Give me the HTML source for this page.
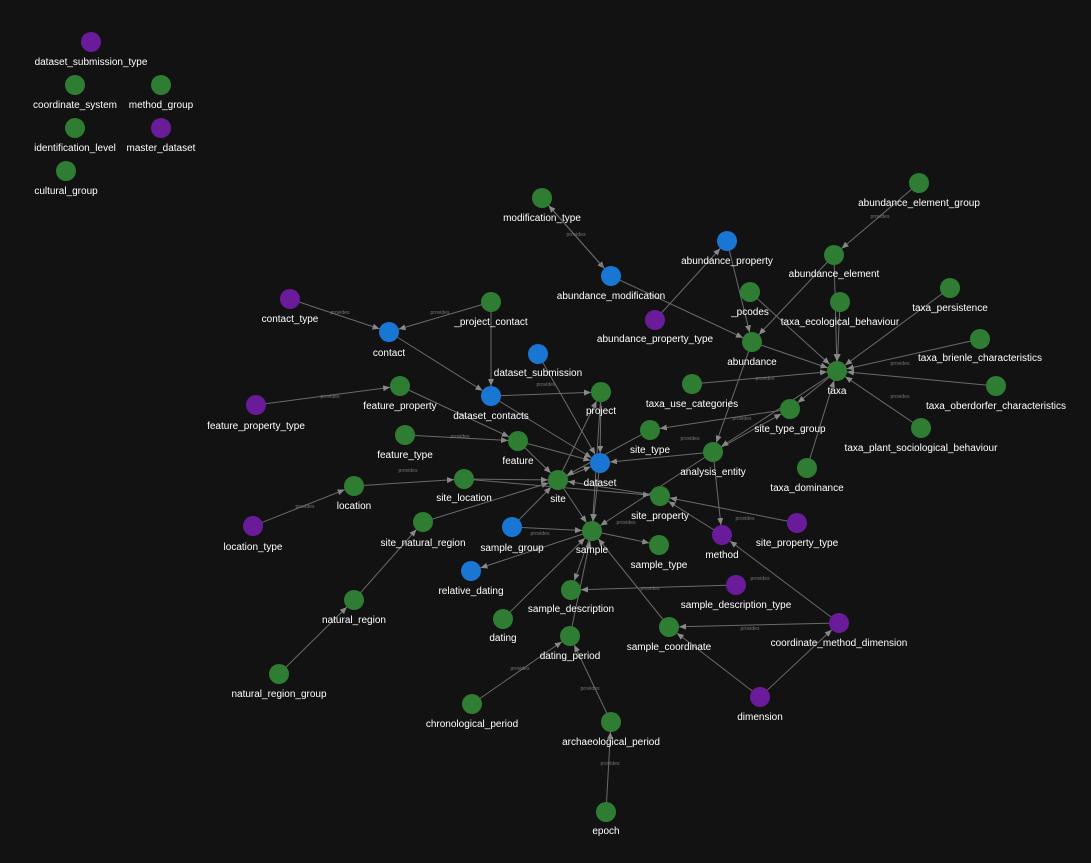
<!DOCTYPE html>
<html><head><meta charset="utf-8"><style>
html,body{margin:0;padding:0;background:#121212;width:1091px;height:863px;overflow:hidden}
svg{display:block}
.e{stroke:#6a6a6a;stroke-width:1;fill:none}
.l{font-family:"Liberation Sans",sans-serif;font-size:10px;fill:#fff;text-anchor:middle}
.p{font-family:"Liberation Sans",sans-serif;font-size:5px;fill:#777;text-anchor:middle}
.g{fill:#2e7d32}.b{fill:#1976d2}.u{fill:#6a1b9a}
</style></head><body>
<svg width="1091" height="863" viewBox="0 0 1091 863" xmlns="http://www.w3.org/2000/svg">
<defs><marker id="a" markerUnits="userSpaceOnUse" markerWidth="8" markerHeight="8" refX="17" refY="3" orient="auto"><path d="M0,0 L7,3 L0,6z" fill="#888"/></marker></defs>
<g class="e" marker-end="url(#a)">
<line x1="542" y1="198" x2="611" y2="276"/>
<line x1="611" y1="276" x2="542" y2="198"/>
<line x1="919" y1="183" x2="834" y2="255"/>
<line x1="834" y1="255" x2="752" y2="342"/>
<line x1="727" y1="241" x2="752" y2="342"/>
<line x1="655" y1="320" x2="727" y2="241"/>
<line x1="611" y1="276" x2="752" y2="342"/>
<line x1="752" y1="342" x2="837" y2="371"/>
<line x1="752" y1="342" x2="713" y2="452"/>
<line x1="750" y1="292" x2="837" y2="371"/>
<line x1="950" y1="288" x2="837" y2="371"/>
<line x1="840" y1="302" x2="837" y2="371"/>
<line x1="980" y1="339" x2="837" y2="371"/>
<line x1="996" y1="386" x2="837" y2="371"/>
<line x1="921" y1="428" x2="837" y2="371"/>
<line x1="807" y1="468" x2="837" y2="371"/>
<line x1="692" y1="384" x2="837" y2="371"/>
<line x1="837" y1="371" x2="790" y2="409"/>
<line x1="834" y1="255" x2="837" y2="371"/>
<line x1="290" y1="299" x2="389" y2="332"/>
<line x1="491" y1="302" x2="389" y2="332"/>
<line x1="389" y1="332" x2="491" y2="396"/>
<line x1="491" y1="302" x2="491" y2="396"/>
<line x1="491" y1="396" x2="601" y2="392"/>
<line x1="491" y1="396" x2="600" y2="463"/>
<line x1="538" y1="354" x2="600" y2="463"/>
<line x1="256" y1="405" x2="400" y2="386"/>
<line x1="400" y1="386" x2="518" y2="441"/>
<line x1="405" y1="435" x2="518" y2="441"/>
<line x1="518" y1="441" x2="558" y2="480"/>
<line x1="518" y1="441" x2="600" y2="463"/>
<line x1="253" y1="526" x2="354" y2="486"/>
<line x1="354" y1="486" x2="464" y2="479"/>
<line x1="464" y1="479" x2="558" y2="480"/>
<line x1="279" y1="674" x2="354" y2="600"/>
<line x1="354" y1="600" x2="423" y2="522"/>
<line x1="423" y1="522" x2="558" y2="480"/>
<line x1="558" y1="480" x2="592" y2="531"/>
<line x1="558" y1="480" x2="600" y2="463"/>
<line x1="558" y1="480" x2="601" y2="392"/>
<line x1="650" y1="430" x2="558" y2="480"/>
<line x1="790" y1="409" x2="650" y2="430"/>
<line x1="660" y1="496" x2="558" y2="480"/>
<line x1="797" y1="523" x2="660" y2="496"/>
<line x1="722" y1="535" x2="660" y2="496"/>
<line x1="512" y1="527" x2="592" y2="531"/>
<line x1="592" y1="531" x2="471" y2="571"/>
<line x1="592" y1="531" x2="659" y2="545"/>
<line x1="592" y1="531" x2="571" y2="590"/>
<line x1="736" y1="585" x2="571" y2="590"/>
<line x1="669" y1="627" x2="592" y2="531"/>
<line x1="839" y1="623" x2="669" y2="627"/>
<line x1="839" y1="623" x2="722" y2="535"/>
<line x1="760" y1="697" x2="839" y2="623"/>
<line x1="760" y1="697" x2="669" y2="627"/>
<line x1="570" y1="636" x2="592" y2="531"/>
<line x1="503" y1="619" x2="592" y2="531"/>
<line x1="472" y1="704" x2="570" y2="636"/>
<line x1="611" y1="722" x2="570" y2="636"/>
<line x1="606" y1="812" x2="611" y2="722"/>
<line x1="713" y1="452" x2="600" y2="463"/>
<line x1="713" y1="452" x2="592" y2="531"/>
<line x1="713" y1="452" x2="722" y2="535"/>
<line x1="601" y1="392" x2="600" y2="463"/>
<line x1="601" y1="392" x2="592" y2="531"/>
<line x1="512" y1="527" x2="558" y2="480"/>
<line x1="600" y1="463" x2="592" y2="531"/>
<line x1="713" y1="452" x2="790" y2="409"/>
<line x1="837" y1="371" x2="713" y2="452"/>
<line x1="464" y1="479" x2="660" y2="496"/>
</g>
<g class="p">
<text x="576" y="236">provides</text><text x="880" y="218">provides</text><text x="440" y="314">provides</text><text x="340" y="314">provides</text><text x="330" y="398">provides</text><text x="460" y="438">provides</text><text x="408" y="472">provides</text><text x="305" y="508">provides</text><text x="546" y="386">provides</text><text x="626" y="524">provides</text><text x="540" y="535">provides</text><text x="650" y="590">provides</text><text x="750" y="630">provides</text><text x="760" y="580">provides</text><text x="765" y="380">provides</text><text x="900" y="365">provides</text><text x="900" y="398">provides</text><text x="742" y="420">provides</text><text x="690" y="440">provides</text><text x="745" y="520">provides</text><text x="590" y="690">provides</text><text x="520" y="670">provides</text><text x="610" y="765">provides</text>
</g>
<g>
<circle cx="91" cy="42" r="10" class="u"/><circle cx="75" cy="85" r="10" class="g"/><circle cx="161" cy="85" r="10" class="g"/><circle cx="75" cy="128" r="10" class="g"/><circle cx="161" cy="128" r="10" class="u"/><circle cx="66" cy="171" r="10" class="g"/>
<circle cx="542" cy="198" r="10" class="g"/><circle cx="919" cy="183" r="10" class="g"/><circle cx="727" cy="241" r="10" class="b"/><circle cx="834" cy="255" r="10" class="g"/><circle cx="611" cy="276" r="10" class="b"/><circle cx="750" cy="292" r="10" class="g"/><circle cx="950" cy="288" r="10" class="g"/><circle cx="290" cy="299" r="10" class="u"/><circle cx="491" cy="302" r="10" class="g"/><circle cx="840" cy="302" r="10" class="g"/><circle cx="655" cy="320" r="10" class="u"/><circle cx="389" cy="332" r="10" class="b"/><circle cx="752" cy="342" r="10" class="g"/><circle cx="980" cy="339" r="10" class="g"/><circle cx="538" cy="354" r="10" class="b"/><circle cx="837" cy="371" r="10" class="g"/><circle cx="400" cy="386" r="10" class="g"/><circle cx="996" cy="386" r="10" class="g"/><circle cx="491" cy="396" r="10" class="b"/><circle cx="692" cy="384" r="10" class="g"/><circle cx="601" cy="392" r="10" class="g"/><circle cx="256" cy="405" r="10" class="u"/><circle cx="790" cy="409" r="10" class="g"/><circle cx="405" cy="435" r="10" class="g"/><circle cx="518" cy="441" r="10" class="g"/><circle cx="650" cy="430" r="10" class="g"/><circle cx="921" cy="428" r="10" class="g"/><circle cx="713" cy="452" r="10" class="g"/><circle cx="600" cy="463" r="10" class="b"/><circle cx="807" cy="468" r="10" class="g"/><circle cx="464" cy="479" r="10" class="g"/><circle cx="354" cy="486" r="10" class="g"/><circle cx="558" cy="480" r="10" class="g"/><circle cx="660" cy="496" r="10" class="g"/><circle cx="797" cy="523" r="10" class="u"/><circle cx="253" cy="526" r="10" class="u"/><circle cx="423" cy="522" r="10" class="g"/><circle cx="512" cy="527" r="10" class="b"/><circle cx="592" cy="531" r="10" class="g"/><circle cx="722" cy="535" r="10" class="u"/><circle cx="659" cy="545" r="10" class="g"/><circle cx="471" cy="571" r="10" class="b"/><circle cx="571" cy="590" r="10" class="g"/><circle cx="736" cy="585" r="10" class="u"/><circle cx="354" cy="600" r="10" class="g"/><circle cx="503" cy="619" r="10" class="g"/><circle cx="839" cy="623" r="10" class="u"/><circle cx="669" cy="627" r="10" class="g"/><circle cx="570" cy="636" r="10" class="g"/><circle cx="279" cy="674" r="10" class="g"/><circle cx="760" cy="697" r="10" class="u"/><circle cx="472" cy="704" r="10" class="g"/><circle cx="611" cy="722" r="10" class="g"/><circle cx="606" cy="812" r="10" class="g"/>
</g>
<g class="l">
<text x="91" y="65">dataset_submission_type</text><text x="75" y="108">coordinate_system</text><text x="161" y="108">method_group</text><text x="75" y="151">identification_level</text><text x="161" y="151">master_dataset</text><text x="66" y="194">cultural_group</text>
<text x="542" y="221">modification_type</text><text x="919" y="206">abundance_element_group</text><text x="727" y="264">abundance_property</text><text x="834" y="277">abundance_element</text><text x="611" y="299">abundance_modification</text><text x="750" y="315">_pcodes</text><text x="950" y="311">taxa_persistence</text><text x="290" y="322">contact_type</text><text x="491" y="325">_project_contact</text><text x="840" y="325">taxa_ecological_behaviour</text><text x="655" y="342">abundance_property_type</text><text x="389" y="356">contact</text><text x="752" y="365">abundance</text><text x="980" y="361">taxa_brienle_characteristics</text><text x="538" y="376">dataset_submission</text><text x="837" y="394">taxa</text><text x="400" y="409">feature_property</text><text x="996" y="409">taxa_oberdorfer_characteristics</text><text x="491" y="419">dataset_contacts</text><text x="692" y="407">taxa_use_categories</text><text x="601" y="414">project</text><text x="256" y="429">feature_property_type</text><text x="790" y="432">site_type_group</text><text x="405" y="458">feature_type</text><text x="518" y="464">feature</text><text x="650" y="453">site_type</text><text x="921" y="451">taxa_plant_sociological_behaviour</text><text x="713" y="475">analysis_entity</text><text x="600" y="486">dataset</text><text x="807" y="491">taxa_dominance</text><text x="464" y="501">site_location</text><text x="354" y="509">location</text><text x="558" y="502">site</text><text x="660" y="519">site_property</text><text x="797" y="546">site_property_type</text><text x="253" y="550">location_type</text><text x="423" y="546">site_natural_region</text><text x="512" y="551">sample_group</text><text x="592" y="553">sample</text><text x="722" y="558">method</text><text x="659" y="568">sample_type</text><text x="471" y="594">relative_dating</text><text x="571" y="612">sample_description</text><text x="736" y="608">sample_description_type</text><text x="354" y="623">natural_region</text><text x="503" y="641">dating</text><text x="839" y="646">coordinate_method_dimension</text><text x="669" y="650">sample_coordinate</text><text x="570" y="659">dating_period</text><text x="279" y="697">natural_region_group</text><text x="760" y="720">dimension</text><text x="472" y="727">chronological_period</text><text x="611" y="745">archaeological_period</text><text x="606" y="834">epoch</text>
</g>
</svg>
</body></html>
